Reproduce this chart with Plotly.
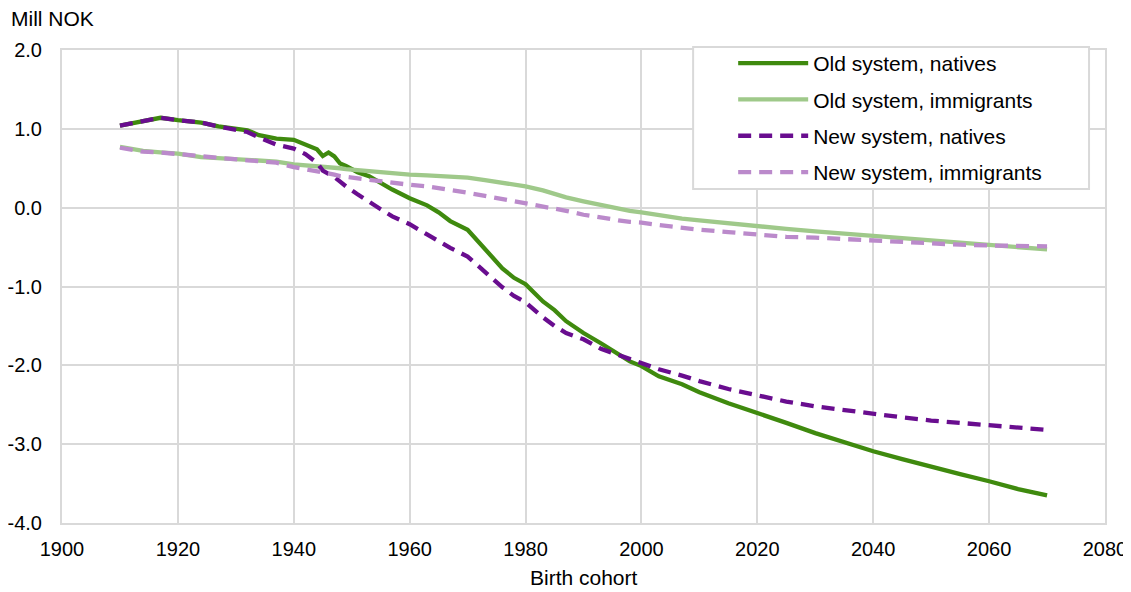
import plotly.graph_objects as go

years = [1910, 1914, 1917, 1920, 1924, 1927, 1930, 1932, 1934, 1937, 1940, 1942, 1944,
         1945, 1946, 1947, 1948, 1949, 1951, 1953, 1955, 1957, 1960, 1963, 1965, 1967,
         1970, 1973, 1976, 1978, 1980, 1983, 1985, 1987, 1990, 1993, 1996, 1998, 2000,
         2003, 2007, 2010, 2015, 2020, 2025, 2030, 2035, 2040, 2045, 2050, 2055, 2060,
         2065, 2070]

old_natives = [1.04, 1.09, 1.14, 1.11, 1.08, 1.03, 1.00, 0.98, 0.92, 0.875, 0.86, 0.80, 0.74,
               0.655, 0.70, 0.65, 0.56, 0.53, 0.45, 0.40, 0.31, 0.23, 0.12, 0.03, -0.06, -0.17,
               -0.28, -0.53, -0.77, -0.89, -0.97, -1.19, -1.30, -1.44, -1.59, -1.72, -1.86, -1.95, -2.01,
               -2.14, -2.24, -2.34, -2.48, -2.60, -2.73, -2.86, -2.98, -3.09, -3.19, -3.29, -3.38, -3.47,
               -3.57, -3.65]

old_immigrants = [0.77, 0.72, 0.70, 0.685, 0.64, 0.63, 0.61, 0.61, 0.60, 0.585, 0.55, 0.54, 0.525,
                  0.52, 0.515, 0.505, 0.50, 0.49, 0.475, 0.46, 0.445, 0.43, 0.42, 0.41, 0.40, 0.39,
                  0.38, 0.35, 0.32, 0.29, 0.27, 0.22, 0.17, 0.13, 0.08, 0.03, -0.01, -0.04, -0.06,
                  -0.10, -0.14, -0.16, -0.20, -0.23, -0.27, -0.30, -0.33, -0.36, -0.39, -0.42, -0.45, -0.48,
                  -0.50, -0.53]

new_natives = [1.04, 1.09, 1.14, 1.11, 1.08, 1.03, 0.99, 0.96, 0.89, 0.80, 0.75, 0.68, 0.57,
               0.47, 0.43, 0.39, 0.33, 0.27, 0.17, 0.07, -0.02, -0.11, -0.21, -0.34, -0.43, -0.51,
               -0.62, -0.82, -1.01, -1.12, -1.20, -1.39, -1.50, -1.59, -1.67, -1.79, -1.87, -1.92, -1.97,
               -2.05, -2.13, -2.20, -2.30, -2.38, -2.46, -2.52, -2.57, -2.62, -2.66, -2.70, -2.73, -2.76,
               -2.79, -2.82]

new_immigrants = [0.76, 0.71, 0.70, 0.68, 0.64, 0.62, 0.60, 0.60, 0.59, 0.57, 0.515, 0.49, 0.46,
                  0.44, 0.43, 0.42, 0.40, 0.39, 0.37, 0.35, 0.33, 0.31, 0.29, 0.27, 0.25, 0.22,
                  0.19, 0.15, 0.11, 0.085, 0.065, 0.02, -0.01, -0.04, -0.09, -0.13, -0.16, -0.18, -0.19,
                  -0.22, -0.26, -0.28, -0.31, -0.34, -0.37, -0.38, -0.40, -0.41, -0.43, -0.45, -0.47, -0.48,
                  -0.49, -0.49]

names = ["Old system, natives", "Old system, immigrants", "New system, natives", "New system, immigrants"]
series = [old_natives, old_immigrants, new_natives, new_immigrants]
colors = ["#3f8a0e", "#9fc98a", "#690d8f", "#bb8acb"]
dashes = ["solid", "solid", "13px,8px", "13px,8px"]

x_ticks = [1900, 1920, 1940, 1960, 1980, 2000, 2020, 2040, 2060, 2080]
y_ticks = [2.0, 1.0, 0.0, -1.0, -2.0, -3.0, -4.0]

FONT = "Liberation Sans, Arial, sans-serif"
GRID = "#d9d9d9"

fig = go.Figure()
for i, (name, vals, col, dash) in enumerate(zip(names, series, colors, dashes)):
    fig.add_trace(go.Scatter(x=years, y=vals, mode="lines", name=name, legendgroup="g%d" % i,
                             line=dict(color=col, width=4.3, dash=dash)))

fig.update_layout(
    width=1123, height=584,
    margin=dict(l=54, r=26, t=42, b=69, autoexpand=False),
    paper_bgcolor="white", plot_bgcolor="white",
    font=dict(family=FONT, size=20, color="#000000"),
    showlegend=True,
    legend=dict(x=0.6435, y=1.0148, xanchor="left", yanchor="top",
                bgcolor="rgba(0,0,0,0)", borderwidth=0,
                font=dict(family=FONT, size=21, color="#000000"),
                itemwidth=70, tracegroupgap=6),
    shapes=[dict(type="rect", xref="paper", yref="paper", x0=0.6051, x1=0.9847,
                 y0=0.7063, y1=1.0063, fillcolor="white", line=dict(color=GRID, width=2),
                 layer="above")],
    xaxis=dict(range=[1900, 2080], tickvals=x_ticks, ticktext=[str(v) for v in x_ticks],
               showgrid=True, gridcolor=GRID, gridwidth=2,
               showline=True, linecolor=GRID, linewidth=2, mirror=True,
               ticks="", zeroline=False, ticklabelstandoff=7,
               tickfont=dict(family=FONT, size=20, color="#000000")),
    yaxis=dict(range=[-4, 2], tickvals=y_ticks, ticktext=["%.1f" % v for v in y_ticks],
               showgrid=True, gridcolor=GRID, gridwidth=2,
               showline=True, linecolor=GRID, linewidth=2, mirror=True,
               ticks="", zeroline=False, ticklabelstandoff=14,
               tickfont=dict(family=FONT, size=20, color="#000000")),
    annotations=[
        dict(text="Mill NOK", xref="paper", yref="paper", x=-0.0509, y=1.0676,
             xanchor="left", yanchor="middle", showarrow=False,
             font=dict(family=FONT, size=21, color="#000000")),
        dict(text="Birth cohort", xref="paper", yref="paper", x=0.5, y=-0.1156,
             xanchor="center", yanchor="middle", showarrow=False,
             font=dict(family=FONT, size=21, color="#000000")),
    ],
)

fig.write_html("out.html")
